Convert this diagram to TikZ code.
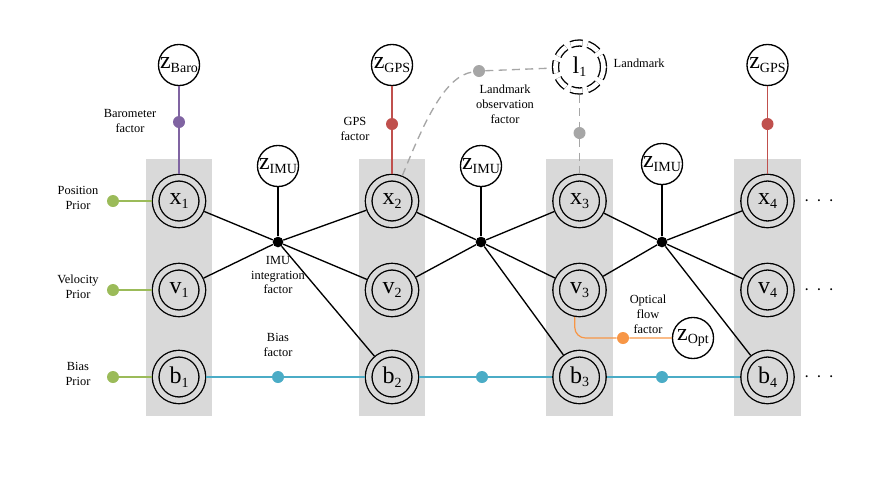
\documentclass[tikz,border=0pt]{standalone}
\usepackage{fontspec}
\setmainfont{Liberation Serif}
\usetikzlibrary{calc}

\definecolor{colgray}{HTML}{D9D9D9}
\definecolor{barocol}{HTML}{8064A2}
\definecolor{gpscol}{HTML}{C0504D}
\definecolor{priorcol}{HTML}{9BBB59}
\definecolor{biascol}{HTML}{4BACC6}
\definecolor{optcol}{HTML}{F79646}
\definecolor{lmcol}{HTML}{A6A6A6}

\newcommand{\nodesym}[2]{{\fontsize{18}{18}\selectfont #1}\raisebox{-2.5pt}{\fontsize{10.5}{10.5}\selectfont #2}}
\newcommand{\moredots}{{\fontsize{14}{14}\selectfont$\cdot\hspace{2pt}\cdot\hspace{2pt}\cdot$}}

\tikzset{
  varnode/.style={circle, draw, line width=1pt, double=colgray, double distance=4pt, inner sep=0pt, outer sep=3pt, minimum size=35pt},
  lmnode/.style={circle, draw, dash pattern=on 9pt off 4pt, line width=1pt, double=white, double distance=3.5pt, inner sep=0pt, outer sep=3pt, minimum size=36pt},
  measnode/.style={circle, draw, fill=white, line width=1pt, inner sep=0pt, minimum size=30.8pt},
  factor/.style={circle, inner sep=0pt, minimum size=9pt},
  imufactor/.style={circle, fill=black, inner sep=0pt, minimum size=8pt},
  lbl/.style={align=center, font=\fontsize{9.3}{11.2}\selectfont},
  imuline/.style={black, line width=1pt},
  baroline/.style={barocol, line width=0.9pt},
  gpsline/.style={gpscol, line width=0.9pt},
  priorline/.style={priorcol, line width=0.9pt},
  biasline/.style={biascol, line width=0.9pt},
  optline/.style={optcol, line width=0.9pt},
  lmline/.style={lmcol, line width=1pt, dash pattern=on 6pt off 4pt},
}

\begin{document}
\begin{tikzpicture}[x=0.75pt, y=-0.75pt]
    \useasboundingbox (0,0) rectangle (895,483);

    % time slices
    \fill[colgray] (146,159) rectangle (212,416);
    \fill[colgray] (359,159) rectangle (425,416);
    \fill[colgray] (546,159) rectangle (613,416);
    \fill[colgray] (734,159) rectangle (801,416);

    % states
    \node[varnode] (x1) at (179,201) {\nodesym{x}{1}};
    \node[varnode] (x2) at (392,201) {\nodesym{x}{2}};
    \node[varnode] (x3) at (579.5,201) {\nodesym{x}{3}};
    \node[varnode] (x4) at (767.5,201) {\nodesym{x}{4}};
    \node[varnode] (v1) at (179,290) {\nodesym{v}{1}};
    \node[varnode] (v2) at (392,290) {\nodesym{v}{2}};
    \node[varnode] (v3) at (579.5,290) {\nodesym{v}{3}};
    \node[varnode] (v4) at (767.5,290) {\nodesym{v}{4}};
    \node[varnode] (b1) at (179,377) {\nodesym{b}{1}};
    \node[varnode] (b2) at (392,377) {\nodesym{b}{2}};
    \node[varnode] (b3) at (579.5,377) {\nodesym{b}{3}};
    \node[varnode] (b4) at (767.5,377) {\nodesym{b}{4}};
    \node[lmnode] (l1) at (579.5,67) {\nodesym{l}{1}};

    % measurements
    \node[measnode] (zbaro) at (179,65) {\nodesym{z}{Baro}};
    \node[measnode] (zgps1) at (392,65) {\nodesym{z}{GPS}};
    \node[measnode] (zgps2) at (767.5,65) {\nodesym{z}{GPS}};
    \node[measnode] (zimu1) at (278,166) {\nodesym{z}{IMU}};
    \node[measnode] (zimu2) at (481,166) {\nodesym{z}{IMU}};
    \node[measnode] (zimu3) at (662,164) {\nodesym{z}{IMU}};
    \node[measnode] (zopt) at (693,338) {\nodesym{z}{Opt}};

    % factors
    \node[factor, fill=barocol] (barof) at (179,122) {};
    \node[factor, fill=gpscol] (gpsf1) at (392,124) {};
    \node[factor, fill=gpscol] (gpsf2) at (767.5,124) {};
    \node[factor, fill=lmcol] (lmf1) at (479,71) {};
    \node[factor, fill=lmcol] (lmf2) at (579.5,133) {};
    \node[factor, fill=priorcol] (pp) at (113,201) {};
    \node[factor, fill=priorcol] (vp) at (113,290) {};
    \node[factor, fill=priorcol] (bp) at (113,377) {};
    \node[factor, fill=biascol] (bf1) at (278,377) {};
    \node[factor, fill=biascol] (bf2) at (482,377) {};
    \node[factor, fill=biascol] (bf3) at (662,377) {};
    \node[factor, fill=optcol] (optf) at (623,338) {};
    \node[imufactor] (imu1) at (278,242) {};
    \node[imufactor] (imu2) at (481,242) {};
    \node[imufactor] (imu3) at (662,242) {};

    % labels
    \node[lbl] (barolbl) at (130,121) {Barometer\\factor};
    \node[lbl] (gpslbl) at (355,129) {GPS\\factor};
    \node[lbl] (lmflbl) at (505,104) {Landmark\\observation\\factor};
    \node[lbl, anchor=west] (lmlbl) at (609,63) {Landmark};
    \node[lbl] (pplbl) at (78,198) {Position\\Prior};
    \node[lbl] (vplbl) at (78,287) {Velocity\\Prior};
    \node[lbl] (bplbl) at (78,374) {Bias\\Prior};
    \node[lbl] (imulbl) at (278,275) {IMU\\integration\\factor};
    \node[lbl] (bflbl) at (278,345) {Bias\\factor};
    \node[lbl] (optlbl) at (648,314) {Optical\\flow\\factor};
    \node (dotsx) at (819,201) {\moredots};
    \node (dotsv) at (819,290) {\moredots};
    \node (dotsb) at (819,377) {\moredots};

    \draw[baroline] (zbaro) -- (barof) -- (x1);
    \draw[gpsline] (zgps1) -- (gpsf1) -- (x2);
    \draw[gpsline] (zgps2) -- (gpsf2) -- (x4);
    \draw[lmline] (x2) .. controls (425,120) and (445,76) .. (lmf1) -- (l1);
    \draw[lmline] (l1) -- (lmf2) -- (x3);
    \draw[optline, rounded corners=8pt] (v3.260) |- (optf) -- (zopt);

    \draw[priorline] (pp) -- (x1);
    \draw[priorline] (vp) -- (v1);
    \draw[priorline] (bp) -- (b1);
    \draw[biasline] (b1) -- (bf1) -- (b2) -- (bf2) -- (b3) -- (bf3) -- (b4);

    \draw[imuline] (zimu1) -- (imu1);
    \draw[imuline] (x1) -- (imu1) -- (x2);
    \draw[imuline] (v1) -- (imu1) -- (v2);
    \draw[imuline] (imu1) -- (b2);
    \draw[imuline] (zimu2) -- (imu2);
    \draw[imuline] (x2) -- (imu2) -- (x3);
    \draw[imuline] (v2) -- (imu2) -- (v3);
    \draw[imuline] (imu2) -- (b3);
    \draw[imuline] (zimu3) -- (imu3);
    \draw[imuline] (x3) -- (imu3) -- (x4);
    \draw[imuline] (v3) -- (imu3) -- (v4);
    \draw[imuline] (imu3) -- (b4);
\end{tikzpicture}
\end{document}
